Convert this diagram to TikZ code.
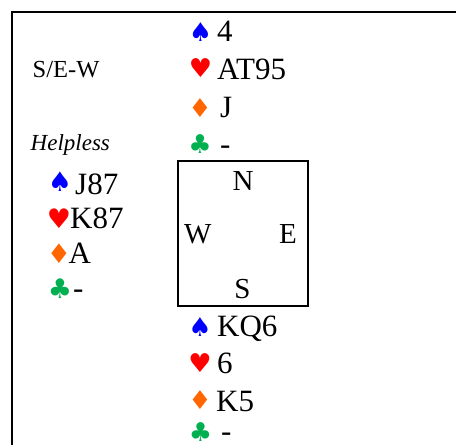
\documentclass[tikz,border=0pt]{standalone}
\usepackage{fontspec}
\setmainfont{Liberation Serif}
\newfontfamily\suitfont{DejaVu Sans}
\definecolor{spadeblue}{RGB}{0,0,255}
\definecolor{heartred}{RGB}{255,0,0}
\definecolor{diamondorange}{RGB}{255,102,0}
\definecolor{clubgreen}{RGB}{0,176,80}
\tikzset{
  handtext/.style={anchor=base west, inner sep=0pt, font=\fontsize{31}{36}\selectfont},
  compass/.style={inner sep=0pt, font=\fontsize{29}{34}\selectfont},
  suit/.style={anchor=center, inner sep=0pt, font=\suitfont\fontsize{26}{30}\selectfont},
  bigsuit/.style={anchor=center, inner sep=0pt, font=\suitfont\fontsize{27}{31}\selectfont},
  label/.style={anchor=base west, inner sep=0pt, font=\fontsize{24.5}{28}\selectfont},
  note/.style={anchor=base west, inner sep=0pt, font=\fontsize{23}{27}\selectfont\itshape},
}
\begin{document}
\begin{tikzpicture}[x=1pt,y=-1pt]
\useasboundingbox (0,0) rectangle (456,445);
% outer frame (only the top and left edges fall inside the page)
\draw[line width=1.5pt] (12,460) -- (12,12) -- (470,12);

% deal information
\node[label] (deal) at (32.5,77.5) {S/E-W};
\node[note] (remark) at (30.5,150.5) {Helpless};

% North
\node[suit, text=spadeblue]     (ns) at (200.5,32.5) {♠};
\node[suit, text=heartred]      (nh) at (200.5,68.5) {♥};
\node[suit, text=diamondorange] (nd) at (200,108.5) {♦};
\node[suit, text=clubgreen]     (nc) at (200,144.5) {♣};
\node[handtext] (nS) at (217,41) {4};
\node[handtext] (nH) at (217,79) {AT95};
\node[handtext] (nD) at (220,117) {J};
\node[handtext] (nC) at (220,154) {-};

% West
\node[bigsuit, text=spadeblue]     (ws) at (60,181.5) {♠};
\node[bigsuit, text=heartred]      (wh) at (59,218.5) {♥};
\node[bigsuit, text=diamondorange] (wd) at (59,254) {♦};
\node[bigsuit, text=clubgreen]     (wc) at (60,289) {♣};
\node[handtext] (wS) at (75,194) {J87};
\node[handtext] (wH) at (70,228) {K87};
\node[handtext] (wD) at (68.5,263) {A};
\node[handtext] (wC) at (73,298) {-};

% compass table
\node[draw, line width=1.5pt, minimum width=130pt, minimum height=145pt, inner sep=0pt] (table) at (243,233.5) {};
\node[compass, anchor=base] (N) at (243,190) {N};
\node[compass, anchor=base] (S) at (242.5,298) {S};
\node[compass, anchor=base west] (W) at (184,243) {W};
\node[compass, anchor=base east] (E) at (297,243) {E};

% South
\node[suit, text=spadeblue]     (ss) at (200,327) {♠};
\node[suit, text=heartred]      (sh) at (200,363) {♥};
\node[suit, text=diamondorange] (sd) at (200,400) {♦};
\node[suit, text=clubgreen]     (sc) at (200.5,432.5) {♣};
\node[handtext] (sS) at (217,336) {KQ6};
\node[handtext] (sH) at (217,373) {6};
\node[handtext] (sD) at (216,411) {K5};
\node[handtext] (sC) at (221,441) {-};
\end{tikzpicture}
\end{document}
